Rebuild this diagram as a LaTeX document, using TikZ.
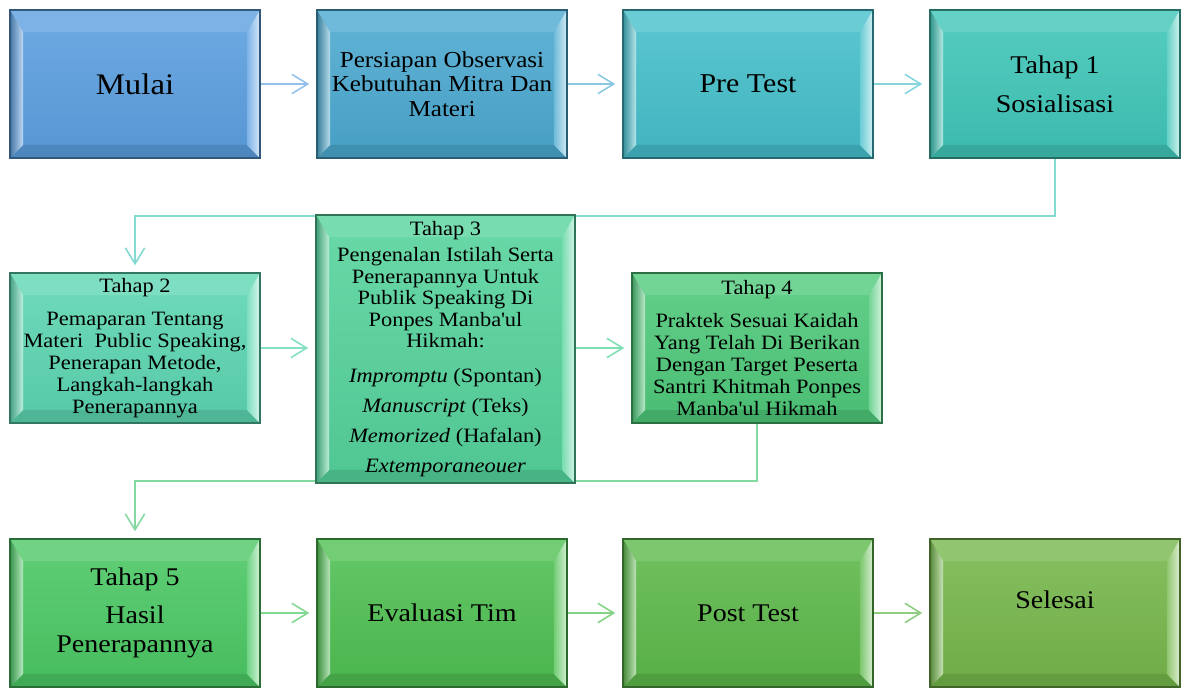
\documentclass[tikz,border=0pt]{standalone}
\usepackage{fontspec}
\setmainfont{Liberation Serif}[FakeStretch=1.1]
\usepackage{tikz}
\usetikzlibrary{arrows.meta,backgrounds}

\definecolor{b1}{HTML}{5B9FE0}
\definecolor{b2}{HTML}{4BA9D0}
\definecolor{b3}{HTML}{45BFCB}
\definecolor{b4}{HTML}{3FC6B8}
\definecolor{b5}{HTML}{5CD6B2}
\definecolor{b6}{HTML}{55D39C}
\definecolor{b7}{HTML}{4FC97A}
\definecolor{b8}{HTML}{4BC864}
\definecolor{b9}{HTML}{4FC052}
\definecolor{b10}{HTML}{5DB94A}
\definecolor{b11}{HTML}{76B74B}

\begin{document}
\begin{tikzpicture}[x=0.02cm, y=-0.02cm,
    stage/.style={top color=#1!88!white, bottom color=#1!94!black, draw=#1!55!black, line width=0.9pt,
        inner sep=0pt, align=center, minimum width=5cm, minimum height=2.96cm,
        path picture={
            \path (path picture bounding box.north west) coordinate (o1) ++(0.26cm,-0.44cm) coordinate (i1)
                  (path picture bounding box.north east) coordinate (o2) ++(-0.26cm,-0.44cm) coordinate (i2)
                  (path picture bounding box.south east) coordinate (o3) ++(-0.26cm,0.26cm) coordinate (i3)
                  (path picture bounding box.south west) coordinate (o4) ++(0.26cm,0.26cm) coordinate (i4);
            \fill[#1!80!white] (o1) -- (o2) -- (i2) -- (i1) -- cycle;
            \fill[#1!85!black] (o4) -- (o3) -- (i3) -- (i4) -- cycle;
            \shade[left color=#1!75!black, right color=#1!40!white] (o1) -- (i1) -- (i4) -- (o4) -- cycle;
            \shade[left color=#1!80!white, right color=#1!25!white] (o2) -- (i2) -- (i3) -- (o3) -- cycle;
        }},
    link/.style={draw=#1, line width=0.9pt, ->, shorten >=0.14cm},
    >={Straight Barb[length=9pt, width=11pt]}]

    \useasboundingbox (0,0) rectangle (1181,687);

    % first row
    \node[stage=b1, font=\fontsize{17}{20}\selectfont] (B1) at (135,84) {Mulai};
    \node[stage=b2, font=\fontsize{13}{13.9}\selectfont] (B2) at (442,84)
        {Persiapan Observasi\\Kebutuhan Mitra Dan\\Materi};
    \node[stage=b3, font=\fontsize{15.5}{18}\selectfont] (B3) at (748,84) {Pre Test};
    \node[stage=b4, font=\fontsize{14.5}{16}\selectfont] (B4) at (1055,84) {Tahap 1\\[6pt]Sosialisasi};

    % second row
    \node[stage=b5, minimum height=3cm, font=\fontsize{11.6}{12.5}\selectfont] (B5) at (135,348)
        {Tahap 2\\[6pt]Pemaparan Tentang\\Materi\ \ Public Speaking,\\Penerapan Metode,\\Langkah-langkah\\Penerapannya};
    \node[stage=b6, minimum width=5.18cm, minimum height=5.36cm, font=\fontsize{11.6}{12.2}\selectfont] (B6) at (445.5,349)
        {Tahap 3\\[3pt]Pengenalan Istilah Serta\\Penerapannya Untuk\\Publik Speaking Di\\Ponpes Manba\textquotesingle ul\\Hikmah:\\[7.5pt]
         \textit{Impromptu} (Spontan)\\[5pt]\textit{Manuscript} (Teks)\\[5pt]\textit{Memorized} (Hafalan)\\[5pt]\textit{Extemporaneouer}};
    \node[stage=b7, minimum height=3cm, font=\fontsize{11.6}{12.5}\selectfont] (B7) at (757,348)
        {Tahap 4\\[6pt]Praktek Sesuai Kaidah\\Yang Telah Di Berikan\\Dengan Target Peserta\\Santri Khitmah Ponpes\\Manba\textquotesingle ul Hikmah};

    % third row
    \node[stage=b8, font=\fontsize{14.5}{16.4}\selectfont] (B8) at (135,613) {Tahap 5\\[5.5pt]Hasil\\Penerapannya};
    \node[stage=b9, font=\fontsize{14.5}{16}\selectfont] (B9) at (442,613) {Evaluasi Tim};
    \node[stage=b10, font=\fontsize{14.5}{16}\selectfont] (B10) at (748,613) {Post Test};
    \node[stage=b11, text depth=0.52cm, font=\fontsize{14.5}{16}\selectfont] (B11) at (1055,613) {Selesai};

    \coordinate (row12) at (0,216);
    \coordinate (row23) at (0,481);

    \begin{scope}[on background layer]
        \draw[link=b1!65!white] (B1) -- (B2);
        \draw[link=b2!65!white] (B2) -- (B3);
        \draw[link=b3!65!white] (B3) -- (B4);
        \draw[link=b4!65!white] (B4) |- (row12 -| B5) -- (B5);
        \draw[link=b5!75!white] (B5.east) -- (B5.east -| B6.west);
        \draw[link=b6!75!white] (B7.west -| B6.east) -- (B7.west);
        \draw[link=b7!70!white] (B7) |- (row23 -| B8) -- (B8);
        \draw[link=b8!70!white] (B8) -- (B9);
        \draw[link=b9!70!white] (B9) -- (B10);
        \draw[link=b10!70!white] (B10) -- (B11);
    \end{scope}
\end{tikzpicture}
\end{document}
